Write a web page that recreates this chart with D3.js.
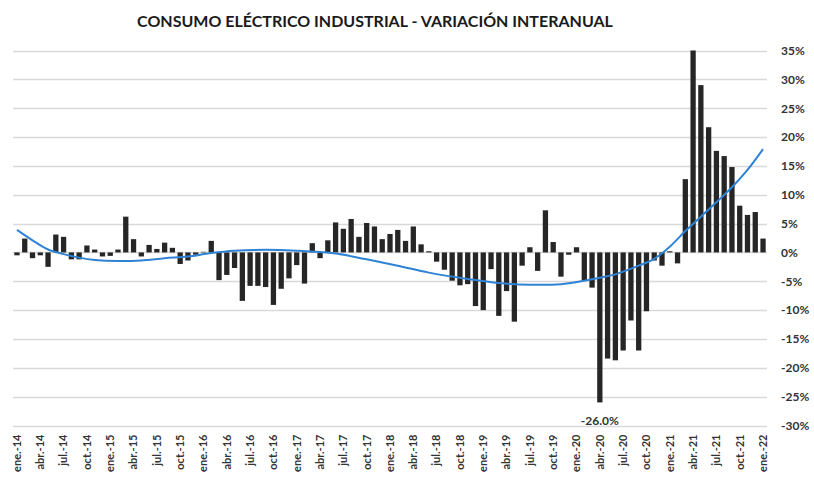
<!DOCTYPE html>
<html lang="es">
<head>
<meta charset="UTF-8">
<title>Consumo eléctrico industrial</title>
<style>
  body { margin: 0; background: #fff; }
  text { font-family: Lato, "Open Sans", sans-serif; }
</style>
</head>
<body>
<svg id="chart"></svg>
<script src="https://cdn.jsdelivr.net/npm/d3@7"></script>
<script>
// meses y años del eje x
var monthNames = ["ene.", "feb.", "mar.", "abr.", "may.", "jun.", "jul.", "ago.", "sep.", "oct.", "nov.", "dic."];
var years = ["14", "15", "16", "17", "18", "19", "20", "21", "22"];

// variacion interanual (%) ene-14 .. ene-22
var values = [
  -0.5, 2.4, -1.0, -0.5, -2.5, 3.1, 2.7, -1.2, -1.2, 1.2, 0.5, -0.7,
  -0.6, 0.5, 6.2, 2.3, -0.7, 1.3, 0.6, 1.7, 0.8, -2.0, -1.4, -0.4,
  0.1, 2.0, -4.8, -3.9, -2.7, -8.4, -5.8, -5.8, -6.0, -9.1, -6.3, -4.5,
  -2.2, -5.4, 1.6, -1.0, 2.1, 5.2, 4.1, 5.8, 2.7, 5.1, 4.5, 2.3,
  3.2, 3.9, 2.0, 4.5, 1.4, 0.2, -1.6, -3.0, -4.9, -5.7, -5.5, -9.3,
  -10.0, -2.9, -11.0, -6.7, -12.0, -2.3, 0.9, -3.2, 7.3, 1.8, -4.2, -0.4,
  0.9, -4.8, -6.1, -26.0, -18.4, -18.7, -17.0, -11.8, -17.0, -10.2, -1.4, -2.3,
  0.2, -1.9, 12.7, 35.0, 29.0, 21.7, 17.6, 16.7, 14.8, 8.1, 6.5, 7.0,
  2.4
];

// linea de tendencia (indice de mes, %)
var trendMonths = [0, 2, 4, 6, 8, 10, 13, 16, 19, 22, 25, 28, 32, 36, 41, 45, 49, 53, 58, 62, 66, 70, 73, 75, 77, 80, 82, 84, 86, 88, 90, 92, 94, 96];
var trendValues = [3.9, 2.1, 0.5, -0.3, -0.9, -1.3, -1.5, -1.4, -1.0, -0.7, -0.1, 0.3, 0.45, 0.3, -0.2, -1.2, -2.3, -3.5, -4.6, -5.3, -5.6, -5.5, -4.9, -4.4, -3.8, -2.3, -1.1, 1.0, 3.7, 6.2, 8.7, 11.3, 14.3, 17.9];

var yTicks = [35, 30, 25, 20, 15, 10, 5, 0, -5, -10, -15, -20, -25, -30];
var minLabel = "-26.0%";

var categories = [];
years.forEach(function(y) {
  monthNames.forEach(function(m) {
    if (categories.length < values.length) categories.push(m + "-" + y);
  });
});

var width = 814, height = 481;
var plotLeft = 13, plotRight = 767, plotTop = 50.5, plotBottom = 425.5;

var svg = d3.select("#chart").attr("width", width).attr("height", height);

var x = d3.scaleBand().domain(categories).range([plotLeft, plotRight]).paddingInner(0.32).paddingOuter(0.17);
var y = d3.scaleLinear().domain([-30, 35]).range([plotBottom, plotTop]);

// gridlines
svg.append("g").selectAll("line")
  .data(yTicks)
  .enter().append("line")
  .attr("x1", plotLeft).attr("x2", plotRight)
  .attr("y1", function(d) { return Math.round(y(d)) + 0.5; })
  .attr("y2", function(d) { return Math.round(y(d)) + 0.5; })
  .attr("stroke", "#d9d9d9")
  .attr("stroke-width", 1.5);

// eje derecho
var yAxis = svg.append("g")
  .attr("transform", "translate(" + plotRight + ",0)")
  .call(d3.axisRight(y).tickValues(yTicks).tickSize(0).tickPadding(14).tickFormat(function(d) { return d + "%"; }));
yAxis.select(".domain").remove();
yAxis.selectAll("text")
  .attr("font-family", "Lato, sans-serif")
  .attr("font-size", 12)
  .attr("font-weight", "bold")
  .attr("fill", "#333");

// barras
svg.append("g").selectAll("rect")
  .data(values)
  .enter().append("rect")
  .attr("x", function(d, i) { return x(categories[i]); })
  .attr("width", x.bandwidth())
  .attr("y", function(d) { return y(Math.max(0, d)); })
  .attr("height", function(d) { return Math.abs(y(d) - y(0)); })
  .attr("fill", "#262626");

// linea de tendencia
var line = d3.line()
  .x(function(d, i) { return x(categories[d]) + x.bandwidth() / 2; })
  .y(function(d, i) { return y(trendValues[i]); })
  .curve(d3.curveCatmullRom.alpha(0.5));
svg.append("path")
  .datum(trendMonths)
  .attr("d", line)
  .attr("fill", "none")
  .attr("stroke", "#2e83d4")
  .attr("stroke-width", 2);

// etiquetas eje x (cada 3 meses)
var xAxis = svg.append("g")
  .attr("transform", "translate(0," + (plotBottom + 9) + ")")
  .call(d3.axisBottom(x).tickValues(categories.filter(function(d, i) { return i % 3 === 0; })).tickSize(0).tickPadding(0));
xAxis.select(".domain").remove();
xAxis.selectAll("text")
  .attr("transform", "rotate(-90)")
  .attr("text-anchor", "end")
  .attr("x", 0).attr("y", 0).attr("dy", "0.35em")
  .attr("font-family", "Lato, sans-serif")
  .attr("font-size", 11)
  .attr("font-weight", "bold")
  .attr("fill", "#333");

// etiqueta del minimo
var minIndex = values.indexOf(d3.min(values));
svg.append("text")
  .attr("x", x(categories[minIndex]) + x.bandwidth() / 2)
  .attr("y", 425)
  .attr("text-anchor", "middle")
  .attr("font-size", 12)
  .attr("font-weight", "bold")
  .attr("fill", "#333")
  .text(minLabel);

// titulo
svg.append("text")
  .attr("x", 375)
  .attr("y", 27)
  .attr("text-anchor", "middle")
  .attr("font-size", 16)
  .attr("font-weight", "bold")
  .attr("fill", "#1a1a1a")
  .text("CONSUMO ELÉCTRICO INDUSTRIAL - VARIACIÓN INTERANUAL");
</script>
</body>
</html>
